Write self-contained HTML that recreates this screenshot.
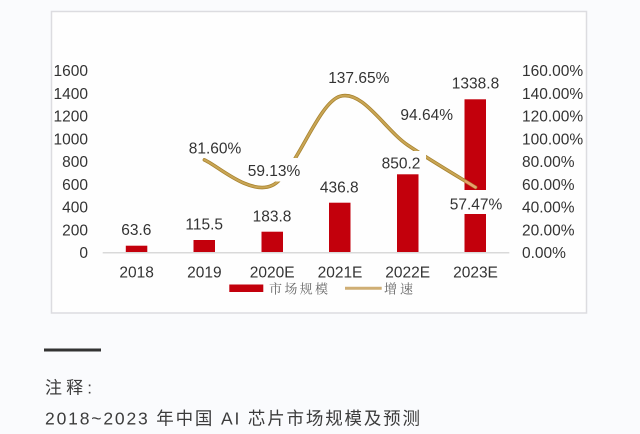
<!DOCTYPE html>
<html>
<head>
<meta charset="utf-8">
<style>
  html, body { margin: 0; padding: 0; background: #fafbfd; }
  body { width: 640px; height: 434px; overflow: hidden; }
  svg { display: block; }
</style>
</head>
<body>
<svg width="640" height="434" viewBox="0 0 640 434" xmlns="http://www.w3.org/2000/svg">
  <rect x="0" y="0" width="640" height="434" fill="#fafbfd"/>
  <!-- chart box -->
  <rect x="51.5" y="11.5" width="535" height="301.5" fill="#fefefe" stroke="#dcdce0" stroke-width="1.5"/>

  <g font-family="'Liberation Sans', Arial, sans-serif" font-size="15.5" fill="#333">
    <!-- left axis -->
    <g text-anchor="end">
      <text x="88" y="258.2">0</text>
      <text x="88" y="235.4">200</text>
      <text x="88" y="212.7">400</text>
      <text x="88" y="189.9">600</text>
      <text x="88" y="167.2">800</text>
      <text x="88" y="144.4">1000</text>
      <text x="88" y="121.7">1200</text>
      <text x="88" y="98.9">1400</text>
      <text x="88" y="76.2">1600</text>
    </g>
    <!-- right axis -->
    <g text-anchor="start">
      <text x="522" y="258.2">0.00%</text>
      <text x="522" y="235.4">20.00%</text>
      <text x="522" y="212.7">40.00%</text>
      <text x="522" y="189.9">60.00%</text>
      <text x="522" y="167.2">80.00%</text>
      <text x="522" y="144.4">100.00%</text>
      <text x="522" y="121.7">120.00%</text>
      <text x="522" y="98.9">140.00%</text>
      <text x="522" y="76.2">160.00%</text>
    </g>
  </g>

  <!-- bars -->
  <g fill="#c3000c">
    <rect x="125.8" y="245.7" width="21.5" height="6.9"/>
    <rect x="193.5" y="240" width="21.5" height="12.6"/>
    <rect x="261.5" y="231.7" width="21.5" height="20.9"/>
    <rect x="329" y="202.7" width="21.5" height="49.9"/>
    <rect x="397" y="174.3" width="21.5" height="78.3"/>
    <rect x="464.5" y="99.3" width="21.5" height="153.3"/>
  </g>

  <!-- baseline -->
  <line x1="102.7" y1="252.8" x2="509.3" y2="252.8" stroke="#d9d9d9" stroke-width="1.5"/>

  <!-- growth line -->
  <path d="M204.4,159.9 C215.7,164.15 249.6,196.0 272.2,185.4 C294.8,174.8 317.4,103.0 340,96.3 C362.6,89.6 385.1,129.9 407.7,145.1 C430.3,160.3 464.2,180.3 475.5,187.3"
        fill="none" stroke="#a88330" stroke-width="3.6" stroke-linecap="round"/>
  <path d="M204.4,159.9 C215.7,164.15 249.6,196.0 272.2,185.4 C294.8,174.8 317.4,103.0 340,96.3 C362.6,89.6 385.1,129.9 407.7,145.1 C430.3,160.3 464.2,180.3 475.5,187.3"
        fill="none" stroke="#c9a655" stroke-width="2" stroke-linecap="round"/>
  <line x1="466" y1="181.5" x2="475.5" y2="187.3" stroke="#e8a070" stroke-width="2.4" stroke-linecap="round"/>

  <!-- label backgrounds -->
  <g fill="#fefefe">
    <rect x="186" y="137" width="58" height="21"/>
    <rect x="245" y="158" width="58" height="23.5"/>
    <rect x="376" y="151" width="50" height="23"/>
    <rect x="447" y="190" width="58" height="24"/>
  </g>

  <!-- data labels -->
  <g font-family="'Liberation Sans', Arial, sans-serif" font-size="15.5" fill="#333" text-anchor="middle">
    <text x="136.3" y="235">63.6</text>
    <text x="204.2" y="229.3">115.5</text>
    <text x="272" y="221.7">183.8</text>
    <text x="339.3" y="192.3">436.8</text>
    <text x="401" y="168.3">850.2</text>
    <text x="475.5" y="88.3">1338.8</text>
    <text x="215" y="153.3">81.60%</text>
    <text x="274" y="176">59.13%</text>
    <text x="358.8" y="83">137.65%</text>
    <text x="426.7" y="120">94.64%</text>
    <text x="476" y="209.3">57.47%</text>

    <!-- category labels -->
    <text x="136.6" y="277.3">2018</text>
    <text x="204.4" y="277.3">2019</text>
    <text x="272.2" y="277.3">2020E</text>
    <text x="340" y="277.3">2021E</text>
    <text x="407.7" y="277.3">2022E</text>
    <text x="475.5" y="277.3">2023E</text>
  </g>

  <!-- legend -->
  <rect x="229.3" y="284.5" width="34" height="7.5" fill="#c3000c"/>
  <text x="269" y="293.3" font-family="'Liberation Sans', 'Noto Serif CJK SC', serif" font-size="13" fill="#666" textLength="59" lengthAdjust="spacing">市场规模</text>
  <line x1="345" y1="288.3" x2="381.7" y2="288.3" stroke="#cfae74" stroke-width="3"/>
  <text x="384" y="293.3" font-family="'Liberation Sans', 'Noto Serif CJK SC', serif" font-size="13" fill="#666" textLength="29" lengthAdjust="spacing">增速</text>

  <!-- bottom notes -->
  <rect x="44" y="348.5" width="57" height="3" fill="#333"/>
  <text x="45" y="393.5" font-family="'Liberation Sans', 'Noto Sans CJK SC', sans-serif" font-size="17" fill="#3c3c3c" textLength="47" lengthAdjust="spacing">注释:</text>
  <text x="45" y="424.5" font-family="'Liberation Sans', 'Noto Sans CJK SC', sans-serif" font-size="17.5" fill="#3c3c3c" textLength="375" lengthAdjust="spacing">2018~2023 年中国 AI 芯片市场规模及预测</text>
</svg>
</body>
</html>
